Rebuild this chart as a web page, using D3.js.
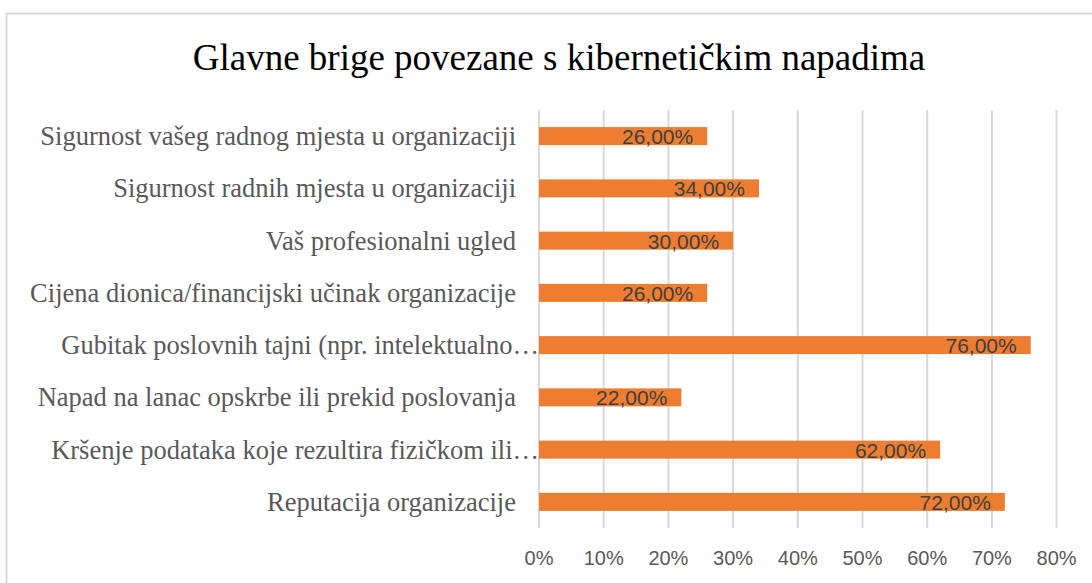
<!DOCTYPE html>
<meta charset="utf-8">
<style>
    body { margin: 0; background: #fff; }
    .cat { font-family: "Liberation Serif", "Times New Roman", serif; fill: #595959; }
    .tick-lbl { font-family: "Liberation Sans", Arial, sans-serif; fill: #595959; }
    .val { font-family: "Liberation Sans", Arial, sans-serif; fill: #404040; }
</style>
<body>

<script src="https://d3js.org/d3.v7.min.js"></script>
<script>
    var categories = [
        "Sigurnost vašeg radnog mjesta u organizaciji",
        "Sigurnost radnih mjesta u organizaciji",
        "Vaš profesionalni ugled",
        "Cijena dionica/financijski učinak organizacije",
        "Gubitak poslovnih tajni (npr. intelektualno…",
        "Napad na lanac opskrbe ili prekid poslovanja",
        "Kršenje podataka koje rezultira fizičkom ili…",
        "Reputacija organizacije"
    ];
    var values = [0.26, 0.34, 0.30, 0.26, 0.76, 0.22, 0.62, 0.72];
    var valueLabels = ["26,00%", "34,00%", "30,00%", "26,00%", "76,00%", "22,00%", "62,00%", "72,00%"];
    var xTicks = [0, 0.1, 0.2, 0.3, 0.4, 0.5, 0.6, 0.7, 0.8];
    var title = "Glavne brige povezane s kibernetičkim napadima";

    var W = 1092, H = 583;
    var plot = {left: 539, right: 1056.6, top: 110, bottom: 528};

    var svg = d3.select("body").append("svg")
        .attr("width", W)
        .attr("height", H);

    // chart area border
    svg.append("rect")
        .attr("x", 6.5).attr("y", 13.5)
        .attr("width", 1200).attr("height", 700)
        .attr("fill", "#fff")
        .attr("stroke", "#d9d9d9")
        .attr("stroke-width", 2);

    svg.append("text")
        .attr("x", 559).attr("y", 70)
        .attr("text-anchor", "middle")
        .attr("font-family", "Liberation Serif, Times New Roman, serif")
        .attr("font-size", 37)
        .attr("fill", "#000")
        .text(title);

    var x = d3.scaleLinear()
        .domain([0, 0.8])
        .range([plot.left, plot.right]);

    var y = d3.scaleBand()
        .domain(categories)
        .range([plot.top, plot.bottom])
        .paddingInner(0.655)
        .paddingOuter(0.3275);

    // gridlines
    svg.append("g")
        .selectAll("line")
        .data(xTicks)
        .join("line")
        .attr("x1", d => x(d)).attr("x2", d => x(d))
        .attr("y1", plot.top).attr("y2", plot.bottom)
        .attr("stroke", "#d9d9d9")
        .attr("stroke-width", 2);

    // x tick labels
    svg.append("g")
        .selectAll("text")
        .data(xTicks)
        .join("text")
        .attr("class", "tick-lbl")
        .attr("x", d => x(d))
        .attr("y", 565)
        .attr("text-anchor", "middle")
        .attr("font-size", 20)
        .text(d => Math.round(d * 100) + "%");

    // bars
    svg.append("g")
        .selectAll("rect")
        .data(values)
        .join("rect")
        .attr("x", x(0))
        .attr("y", (d, i) => y(categories[i]))
        .attr("width", d => x(d) - x(0))
        .attr("height", y.bandwidth())
        .attr("fill", "#ed7d31");

    // value labels (inside end)
    svg.append("g")
        .selectAll("text")
        .data(values)
        .join("text")
        .attr("class", "val")
        .attr("x", d => x(d) - 14)
        .attr("y", (d, i) => y(categories[i]) + y.bandwidth() / 2 + 8)
        .attr("text-anchor", "end")
        .attr("font-size", 21)
        .text((d, i) => valueLabels[i]);

    // category labels; truncated ones run up to the axis like in Excel
    svg.append("g")
        .selectAll("text")
        .data(categories)
        .join("text")
        .attr("class", "cat")
        .attr("x", d => d.endsWith("…") ? 539 : 516)
        .attr("y", d => y(d) + y.bandwidth() / 2 + 9)
        .attr("text-anchor", "end")
        .attr("font-size", 26.5)
        .text(d => d);
</script>

</body>
</html>
